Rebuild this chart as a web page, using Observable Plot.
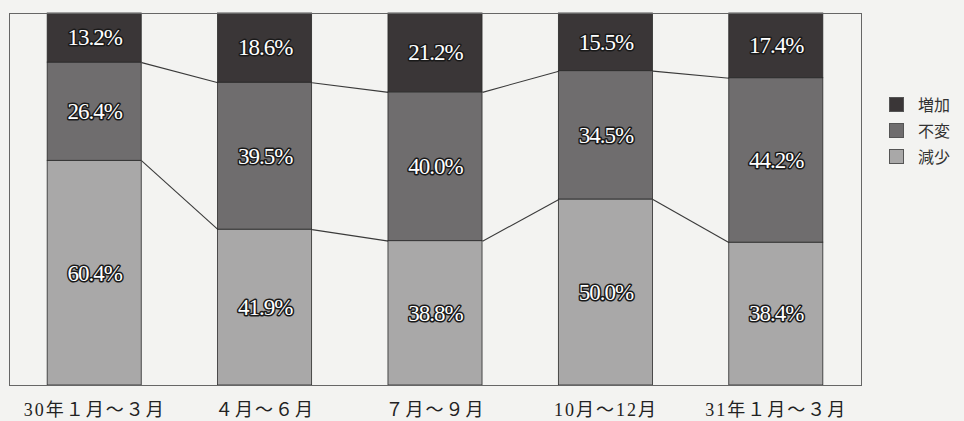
<!DOCTYPE html>
<html>
<head>
<meta charset="utf-8">
<script src="https://cdn.jsdelivr.net/npm/d3@7"></script>
<script src="https://cdn.jsdelivr.net/npm/@observablehq/plot@0.6"></script>
<style>
  html, body { margin: 0; padding: 0; background: #f3f3f1; }
  #wrap { position: relative; width: 964px; height: 421px; }
  #legend { position: absolute; left: 889px; top: 91px; font-family: "Liberation Serif", "Noto Sans CJK JP", serif; font-size: 16px; color: #333; }
  .item { display: flex; align-items: center; height: 26px; }
  .sw { width: 15px; height: 15px; margin-right: 14px; border: 1px solid #555; box-sizing: border-box; }
  .seglabel text { letter-spacing: -1px; }
  .xlab text { letter-spacing: 2px; }
</style>
</head>
<body>
<div id="wrap"><div id="legend"></div></div>
<script>
const periods = ["30年１月～３月", "４月～６月", "７月～９月", "10月～12月", "31年１月～３月"];
const seriesNames = ["減少", "不変", "増加"]; // bottom to top
const decrease = [60.4, 41.9, 38.8, 50.0, 38.4];
const unchanged = [26.4, 39.5, 40.0, 34.5, 44.2];
const increase = [13.2, 18.6, 21.2, 15.5, 17.4];
const legendOrder = ["増加", "不変", "減少"];
const colors = {"増加": "#3a3637", "不変": "#6f6d6e", "減少": "#a9a8a8"};

const hw = 0.276; // half bar width in band units
const seriesValues = [decrease, unchanged, increase];
const rects = [];
periods.forEach((p, i) => {
  let cum = 0;
  seriesValues.forEach((vals, s) => {
    const v = vals[i];
    rects.push({i, series: seriesNames[s], y1: cum, y2: cum + v, v, mid: cum + v / 2});
    cum += v;
  });
});
const links = [];
for (let i = 0; i < periods.length - 1; i++) {
  links.push({x1: i + hw, x2: i + 1 - hw, y1: decrease[i], y2: decrease[i + 1]});
  links.push({x1: i + hw, x2: i + 1 - hw, y1: decrease[i] + unchanged[i], y2: decrease[i + 1] + unchanged[i + 1]});
}

const chart = Plot.plot({
  width: 964,
  height: 421,
  marginLeft: 9,
  marginRight: 103,
  marginTop: 13,
  marginBottom: 36,
  style: {background: "transparent", fontFamily: "'Liberation Serif', 'Noto Sans CJK JP', serif"},
  x: {domain: [-0.5, periods.length - 0.5], axis: null},
  y: {domain: [0, 100], axis: null},
  marks: [
    Plot.link(links, {x1: "x1", x2: "x2", y1: "y1", y2: "y2", stroke: "#3a3a3a", strokeWidth: 1.1}),
    Plot.rect(rects, {x1: d => d.i - hw, x2: d => d.i + hw, y1: "y1", y2: "y2", fill: d => colors[d.series], stroke: "#2a2a2a", strokeWidth: 0.8}),
    Plot.text(rects, {x: "i", y: "mid", text: d => d.v.toFixed(1) + "%", fill: "white", stroke: "#1a1a1a", strokeWidth: 3, fontSize: 23, fontFamily: "Liberation Serif", className: "seglabel"}),
    Plot.frame({stroke: "#666", strokeWidth: 1}),
    Plot.axisX(d3.range(periods.length), {tickSize: 0, tickPadding: 18, tickFormat: i => periods[i], fontSize: 18, fill: "#222", fontFamily: "'Liberation Serif', 'Noto Sans CJK JP', serif", className: "xlab"})
  ]
});
document.getElementById("wrap").prepend(chart);
chart.style.position = "absolute";
chart.style.left = "0";
chart.style.top = "0";

const lg = document.getElementById("legend");
legendOrder.forEach(n => {
  const it = document.createElement("div");
  it.className = "item";
  it.innerHTML = `<span class="sw" style="background:${colors[n]}"></span><span>${n}</span>`;
  lg.appendChild(it);
});
</script>
</body>
</html>
